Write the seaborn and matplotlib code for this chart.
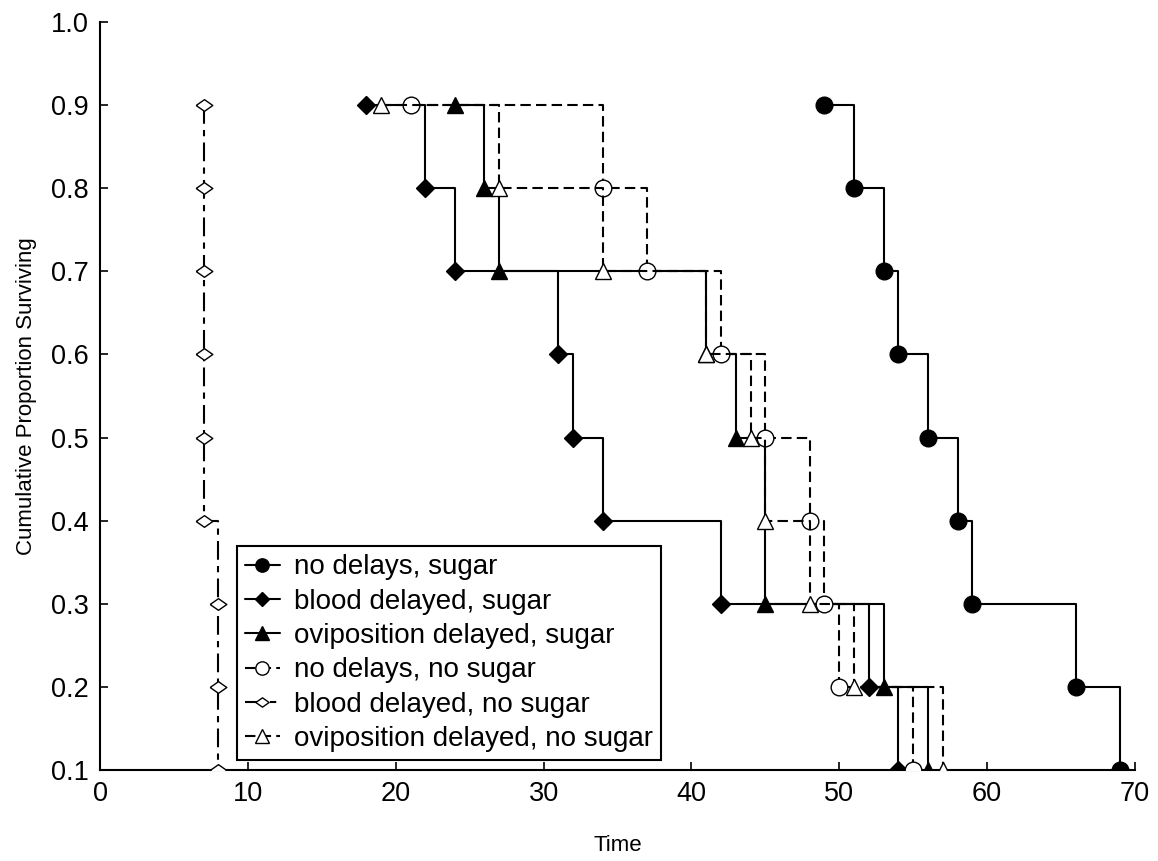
import matplotlib
matplotlib.use("Agg")
import matplotlib.pyplot as plt
import seaborn as sns

# survival levels (Kaplan-Meier steps) and event times per group
surv = [0.9, 0.8, 0.7, 0.6, 0.5, 0.4, 0.3, 0.2, 0.1]

t_nodelay_sugar = [49, 51, 53, 54, 56, 58, 59, 66, 69]
t_blood_sugar = [18, 22, 24, 31, 32, 34, 42, 52, 54]
t_ovi_sugar = [24, 26, 27, 41, 43, 45, 53, 56]
s_ovi_sugar = [0.9, 0.8, 0.7, 0.6, 0.5, 0.3, 0.2, 0.1]
t_nodelay_nosugar = [21, 34, 37, 42, 45, 48, 49, 50, 55]
t_blood_nosugar = [7, 7, 7, 7, 7, 7, 8, 8, 8]
t_ovi_nosugar = [19, 27, 34, 41, 44, 45, 48, 51, 57]

labels = [
    "no delays, sugar",
    "blood delayed, sugar",
    "oviposition delayed, sugar",
    "no delays, no sugar",
    "blood delayed, no sugar",
    "oviposition delayed, no sugar",
]

yticks = [0.1, 0.2, 0.3, 0.4, 0.5, 0.6, 0.7, 0.8, 0.9, 1.0]

sns.set_style("ticks")
plt.rcParams['font.family'] = ['Liberation Sans', 'DejaVu Sans']
plt.rcParams['text.color'] = 'black'
plt.rcParams['axes.labelcolor'] = 'black'
plt.rcParams['xtick.color'] = 'black'
plt.rcParams['ytick.color'] = 'black'

fig = plt.figure(figsize=(11.58, 8.61), dpi=100)
ax = fig.add_axes([0.0864, 0.1057, 0.8937, 0.8687])

dashed = (0, (5, 2.5))
dashdot = (0, (9, 3, 3, 3))
flat_diamond = [(-1, 0), (0, 0.7), (1, 0), (0, -0.7), (-1, 0)]

series = [
    (t_nodelay_sugar, surv, 'o', 'black', '-', 12, 2),
    (t_blood_sugar, surv, 'D', 'black', '-', 9, 2),
    (t_ovi_sugar, s_ovi_sugar, '^', 'black', '-', 12, 2),
    (t_nodelay_nosugar, surv, 'o', 'white', dashed, 12, 3),
    (t_blood_nosugar, surv, flat_diamond, 'white', dashdot, 12, 3),
    (t_ovi_nosugar, surv, '^', 'white', dashed, 12, 3),
]

for (t, s, m, fc, ls, ms, z), lab in zip(series, labels):
    sns.lineplot(x=t, y=s, ax=ax, estimator=None, sort=False,
                 drawstyle='steps-post', color='black', linestyle=ls,
                 linewidth=1.5, marker=m, markersize=ms,
                 markerfacecolor=fc, markeredgecolor='black',
                 markeredgewidth=1.0, label=lab, zorder=z, legend=False)

ax.set_xlim(0, 70)
ax.set_ylim(0.1, 1.0)
ax.set_xticks(range(0, 71, 10))
ax.set_yticks(yticks)
ax.set_yticklabels([f"{v:.1f}" for v in yticks])
ax.tick_params(direction='in', length=6, width=1.2, labelsize=19.5, colors='black', pad=8)
for side in ['left', 'bottom']:
    ax.spines[side].set_linewidth(1.5)
    ax.spines[side].set_color('black')
sns.despine(ax=ax)

ax.set_xlabel("Time", fontsize=16, labelpad=20)
ax.set_ylabel("Cumulative Proportion Surviving", fontsize=16, labelpad=10)

leg = ax.legend(loc='lower left', bbox_to_anchor=(0.132, 0.013), borderaxespad=0,
                fontsize=20, frameon=True, fancybox=False, framealpha=1,
                edgecolor='black', handlelength=1.25, handletextpad=0.5,
                labelspacing=0.3, borderpad=0.3, markerscale=0.8)
leg.get_frame().set_linewidth(1.5)

fig.savefig("out.png", dpi=100)
